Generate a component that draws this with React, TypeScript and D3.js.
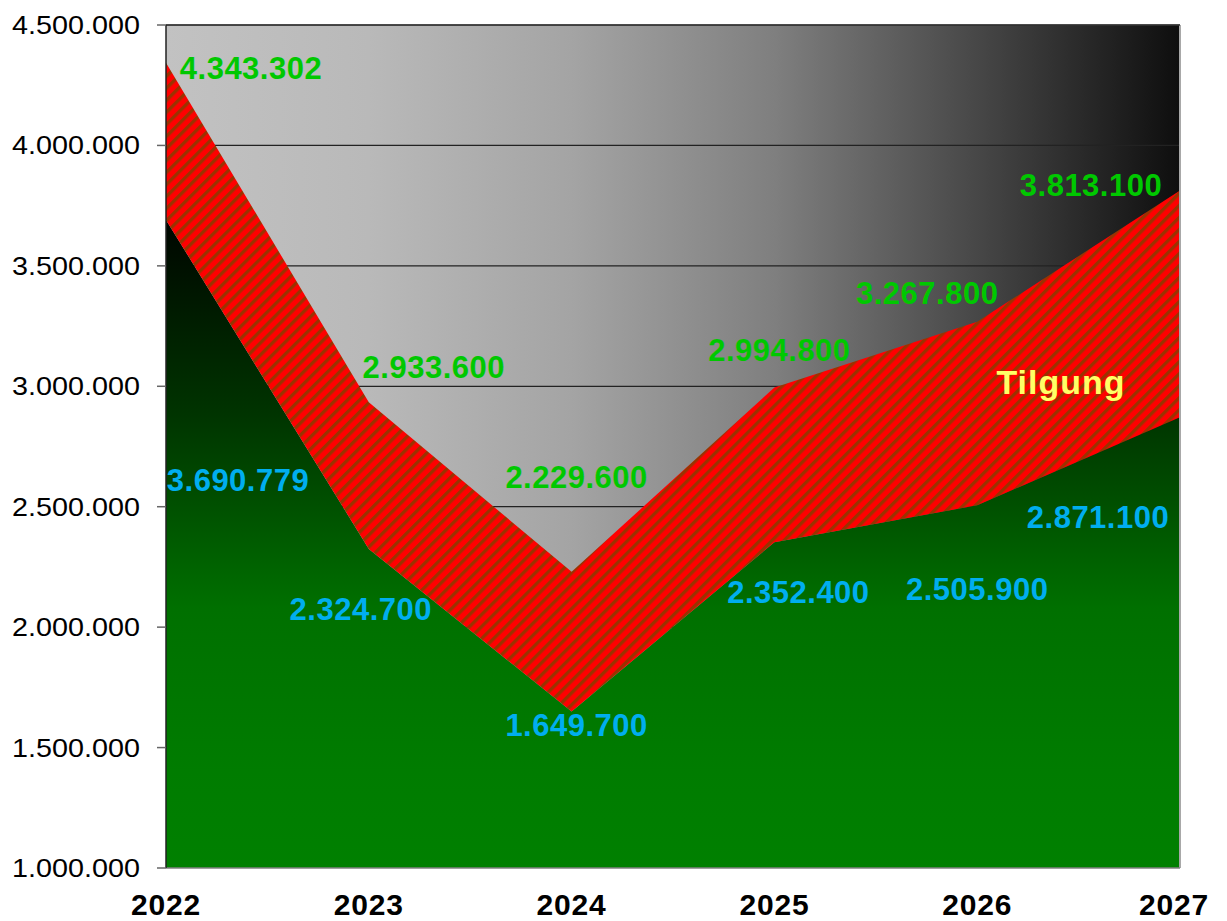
import React from "react";
import * as d3 from "d3";

const years = ["2022", "2023", "2024", "2025", "2026", "2027"];
const upperValues = [4343302, 2933600, 2229600, 2994800, 3267800, 3813100];
const lowerValues = [3690779, 2324700, 1649700, 2352400, 2505900, 2871100];
const yTicks = [1000000, 1500000, 2000000, 2500000, 3000000, 3500000, 4000000, 4500000];
const bandLabel = "Tilgung";

// label placement offsets (dx, dy) relative to each point
const upperLabelOffsets = [[85, 16], [65, -24], [5, -84], [5, -27], [-50, -18], [-89, 6]];
const lowerLabelOffsets = [[72, 271], [-8, 71], [5, 24], [24, 61], [0, 95], [-82, 111]];

const W = 1227;
const H = 921;
const left = 166;
const right = 1180;
const top = 25;
const bottom = 868;
const font = "'Liberation Sans', Arial, Helvetica, sans-serif";

const de = d3.formatLocale({ decimal: ",", thousands: ".", grouping: [3], currency: ["", "€"] });
const fmt = de.format(",d");

export default function App() {
  const x = d3.scalePoint<string>().domain(years).range([left, right]);
  const y = d3.scaleLinear().domain([1000000, 4500000]).range([bottom, top]);

  const idx = years.map((_, i) => i);
  const lowerArea = d3
    .area<number>()
    .x((i) => x(years[i]) as number)
    .y0(y(1000000))
    .y1((i) => y(lowerValues[i]))(idx) as string;
  const bandArea = d3
    .area<number>()
    .x((i) => x(years[i]) as number)
    .y0((i) => y(lowerValues[i]))
    .y1((i) => y(upperValues[i]))(idx) as string;

  const greenTop = y(d3.max(lowerValues) as number);

  return (
    <svg
      width={W}
      height={H}
      style={{ position: "absolute", left: 0, top: 0, background: "#fff" }}
      fontFamily={font}
    >
      <defs>
        <linearGradient id="bg" gradientUnits="userSpaceOnUse" x1={left} y1={0} x2={right} y2={0}>
          <stop offset="0" stopColor="#c2c2c2" />
          <stop offset="0.2" stopColor="#b9b9b9" />
          <stop offset="0.4" stopColor="#a4a4a4" />
          <stop offset="0.6" stopColor="#7f7f7f" />
          <stop offset="0.8" stopColor="#474747" />
          <stop offset="1" stopColor="#0e0e0e" />
        </linearGradient>
        <linearGradient id="green" gradientUnits="userSpaceOnUse" x1={0} y1={greenTop} x2={0} y2={bottom}>
          <stop offset="0" stopColor="#000500" />
          <stop offset="0.3" stopColor="#003400" />
          <stop offset="0.6" stopColor="#007000" />
          <stop offset="0.85" stopColor="#007c00" />
          <stop offset="1" stopColor="#008000" />
        </linearGradient>
        <pattern
          id="hatch"
          patternUnits="userSpaceOnUse"
          width={8.5}
          height={8.5}
          patternTransform="rotate(45)"
        >
          <rect width={8.5} height={8.5} fill="#ff0000" />
          <rect width={3.3} height={8.5} fill="#9a3300" />
        </pattern>
      </defs>

      {/* plot background */}
      <rect x={left} y={top} width={right - left} height={bottom - top} fill="url(#bg)" />

      {/* gridlines */}
      {yTicks.slice(1).map((t) => (
        <line key={t} x1={left} x2={right} y1={y(t)} y2={y(t)} stroke="#222" strokeWidth={1.2} />
      ))}

      {/* areas */}
      <path d={lowerArea} fill="url(#green)" />
      <path d={bandArea} fill="url(#hatch)" />

      {/* frame */}
      <line x1={right} x2={right} y1={top} y2={bottom} stroke="#a8a8a8" strokeWidth={2} />
      <line x1={left} x2={right} y1={bottom} y2={bottom} stroke="#808080" strokeWidth={1.5} />
      <line x1={left} x2={right} y1={top} y2={top} stroke="#333" strokeWidth={1.5} />
      <line x1={left} x2={left} y1={top} y2={bottom} stroke="#222" strokeWidth={1.5} />

      {/* y axis ticks */}
      {yTicks.map((t) => (
        <g key={t}>
          <line x1={left - 9} x2={left} y1={y(t)} y2={y(t)} stroke="#666" strokeWidth={1.5} />
          <text
            transform={`translate(140,${y(t) + 9}) scale(1.15,1)`}
            textAnchor="end"
            fontSize={25}
            fill="#000"
          >
            {fmt(t)}
          </text>
        </g>
      ))}

      {/* x axis labels */}
      {years.map((yr) => (
        <text
          key={yr}
          x={(x(yr) as number) + (yr === years[years.length - 1] ? -6 : 0)}
          y={915}
          textAnchor="middle"
          fontSize={30}
          fontWeight="bold"
          letterSpacing={0.8}
          fill="#000"
        >
          {yr}
        </text>
      ))}

      {/* upper value labels */}
      {upperValues.map((v, i) => (
        <text
          key={"u" + i}
          x={(x(years[i]) as number) + upperLabelOffsets[i][0]}
          y={y(v) + upperLabelOffsets[i][1]}
          textAnchor="middle"
          fontSize={31}
          fontWeight="bold"
          letterSpacing={0.5}
          fill="#00c800"
        >
          {fmt(v)}
        </text>
      ))}

      {/* lower value labels */}
      {lowerValues.map((v, i) => (
        <text
          key={"l" + i}
          x={(x(years[i]) as number) + lowerLabelOffsets[i][0]}
          y={y(v) + lowerLabelOffsets[i][1]}
          textAnchor="middle"
          fontSize={31}
          fontWeight="bold"
          letterSpacing={0.5}
          fill="#00aeef"
        >
          {fmt(v)}
        </text>
      ))}

      {/* band label */}
      <text
        x={1061}
        y={394}
        textAnchor="middle"
        fontSize={34}
        fontWeight="bold"
        letterSpacing={1}
        fill="#ffff66"
      >
        {bandLabel}
      </text>
    </svg>
  );
}
